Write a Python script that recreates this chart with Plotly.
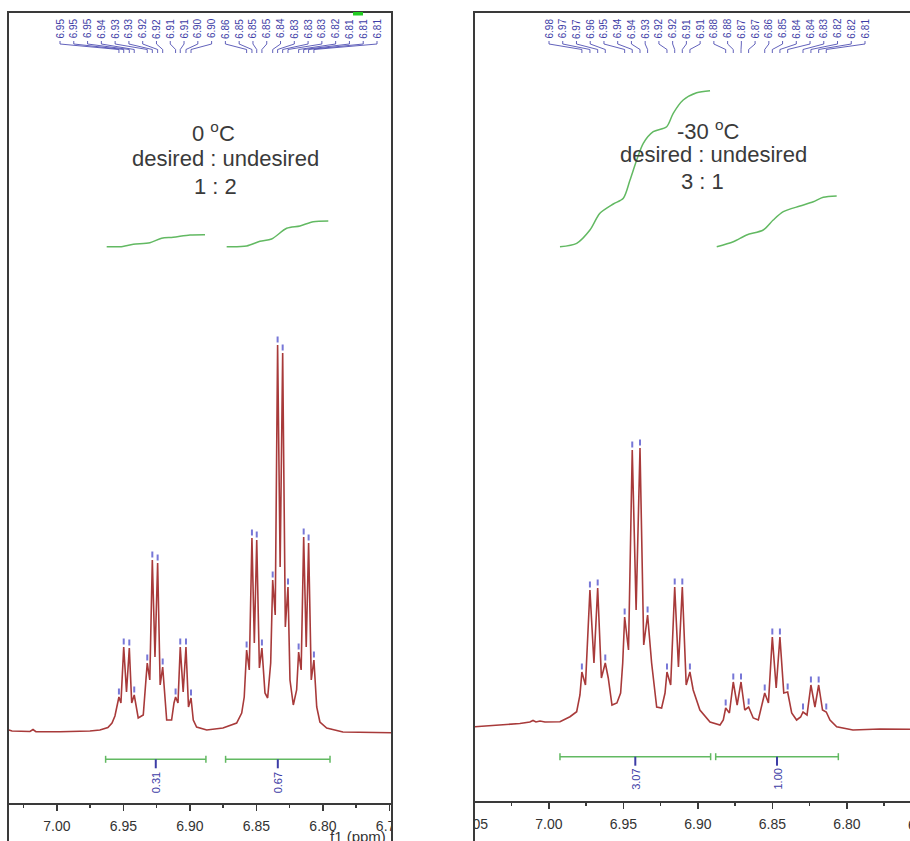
import plotly.graph_objects as go

W, H = 910, 841
FONT = "Liberation Sans, Arial, sans-serif"

# ================= DATA =================
# ---- Left panel: 0 °C ----
spec0_ppm = [7.0361, 7.0338, 7.0203, 7.0180, 7.0158, 6.9977, 6.9752, 6.9677, 6.9617, 6.9586,
             6.9564, 6.9549, 6.9534, 6.9519, 6.9498, 6.9477, 6.9456, 6.9438, 6.9419, 6.9389,
             6.9351, 6.9331, 6.9321, 6.9302, 6.9283, 6.9263, 6.9243, 6.9224, 6.9205, 6.9175,
             6.9138, 6.9120, 6.9108, 6.9090, 6.9073, 6.9051, 6.9030, 6.9011, 6.8992, 6.8975,
             6.8950, 6.8874, 6.8752, 6.8649, 6.8611, 6.8592, 6.8574, 6.8554, 6.8534, 6.8516,
             6.8498, 6.8478, 6.8459, 6.8436, 6.8416, 6.8393, 6.8378, 6.8359, 6.8341, 6.8322,
             6.8303, 6.8283, 6.8263, 6.8248, 6.8223, 6.8198, 6.8183, 6.8164, 6.8145, 6.8126,
             6.8108, 6.8088, 6.8068, 6.8047, 6.8023, 6.7972, 6.7850, 6.7481]
spec0_int = [2, 1, 0.5, 2.5, 0.3, 0.2, 1, 2, 4.5, 9,
             16, 24, 35, 29, 85, 40, 84, 29, 37, 14,
             17, 52, 69, 52, 172, 75, 169, 47, 65, 12,
             12, 29, 35, 29, 85, 40, 85, 25, 34, 12,
             5, 2, 4, 9, 19, 35, 82, 62, 194, 89,
             192, 64, 84, 39, 34, 69, 152, 117, 387, 165,
             379, 105, 145, 52, 27, 42, 80, 62, 195, 85,
             189, 52, 72, 25, 10, 4, 0, -0.7]
peaks0_ppm = [6.9534, 6.9498, 6.9456, 6.9419, 6.9321, 6.9283, 6.9243, 6.9205, 6.9108, 6.9073,
              6.9030, 6.8992, 6.8574, 6.8534, 6.8498, 6.8459, 6.8378, 6.8341, 6.8303, 6.8263,
              6.8183, 6.8145, 6.8108, 6.8068]
peaks0_int = [35, 85, 84, 37, 69, 172, 169, 65, 35, 85, 85, 34,
              82, 194, 192, 84, 152, 387, 379, 145, 80, 195, 189, 72]
peaks0_labels = ["6.95", "6.95", "6.95", "6.94", "6.93", "6.93", "6.92", "6.92", "6.91", "6.91",
                 "6.90", "6.90", "6.86", "6.85", "6.85", "6.85", "6.84", "6.83", "6.83", "6.83",
                 "6.82", "6.81", "6.81", "6.81"]
integ0a_ppm = [6.9626, 6.9526, 6.9426, 6.9301, 6.9213, 6.9126, 6.9000, 6.8887]
integ0a_val = [0, 0, 2.4, 4.0, 8.4, 9.4, 11.7, 12.0]
integ0b_ppm = [6.8724, 6.8574, 6.8474, 6.8386, 6.8273, 6.8173, 6.8073, 6.7960]
integ0b_val = [0, 0.7, 5.4, 7.7, 18.4, 20.7, 25.0, 25.7]
ranges0 = [(6.9634, 6.8880), (6.8732, 6.7947)]
integrals0 = ["0.31", "0.67"]

# ---- Right panel: -30 °C ----
spec30_ppm = [7.0497, 7.0309, 7.0195, 7.0128, 7.0107, 7.0087, 7.0060, 7.0027, 6.9926, 6.9859,
              6.9814, 6.9792, 6.9779, 6.9755, 6.9725, 6.9698, 6.9673, 6.9648, 6.9622, 6.9602,
              6.9577, 6.9544, 6.9519, 6.9505, 6.9492, 6.9466, 6.9441, 6.9415, 6.9389, 6.9364,
              6.9338, 6.9311, 6.9277, 6.9244, 6.9221, 6.9208, 6.9183, 6.9156, 6.9131, 6.9105,
              6.9079, 6.9054, 6.9032, 6.8987, 6.8919, 6.8852, 6.8830, 6.8814, 6.8789, 6.8763,
              6.8737, 6.8711, 6.8686, 6.8660, 6.8629, 6.8595, 6.8572, 6.8552, 6.8527, 6.8501,
              6.8475, 6.8450, 6.8424, 6.8398, 6.8371, 6.8338, 6.8311, 6.8295, 6.8268, 6.8242,
              6.8215, 6.8190, 6.8164, 6.8139, 6.8114, 6.8069, 6.7960, 6.7779, 6.7577]
spec30_int = [0.3, 2, 3.5, 5, 6.5, 5, 6, 5, 5.3, 10.3,
              15.3, 32, 55, 42, 137, 64, 139, 49, 64, 49,
              22, 24, 34, 64, 110, 77, 277, 117, 279, 82,
              112, 64, 20, 19, 34, 55, 42, 140, 60, 140,
              42, 55, 37, 17, 5, 2, 7, 19, 14, 45,
              22, 45, 17, 20, 9, 7, 20, 34, 24, 90,
              39, 90, 34, 35, 14, 7, 10, 15, 12, 42,
              20, 42, 17, 15, 7, 0.3, -3, -2, -2.3]
peaks30_ppm = [6.9779, 6.9725, 6.9673, 6.9622, 6.9492, 6.9441, 6.9389, 6.9338, 6.9208, 6.9156,
               6.9105, 6.9054, 6.8814, 6.8763, 6.8711, 6.8660, 6.8552, 6.8501, 6.8450, 6.8398,
               6.8295, 6.8242, 6.8190, 6.8139]
peaks30_int = [55, 137, 139, 64, 110, 277, 279, 112, 55, 140, 140, 55,
               19, 45, 45, 20, 34, 90, 90, 35, 15, 42, 42, 15]
peaks30_labels = ["6.98", "6.97", "6.97", "6.96", "6.95", "6.94", "6.94", "6.93", "6.92", "6.92",
                  "6.91", "6.91", "6.88", "6.88", "6.87", "6.87", "6.86", "6.85", "6.84", "6.84",
                  "6.83", "6.82", "6.82", "6.81"]
integ30a_ppm = [6.9926, 6.9814, 6.9725, 6.9658, 6.9568, 6.9501, 6.9456, 6.9411, 6.9367, 6.9300,
                6.9210, 6.9166, 6.9099, 6.9009, 6.8919]
integ30a_val = [0, 3.4, 16.7, 33.4, 42.7, 48.4, 66.7, 86.7, 103.4, 115, 120, 133.4, 146.7, 154, 156]
integ30b_ppm = [6.8874, 6.8763, 6.8673, 6.8562, 6.8495, 6.8427, 6.8315, 6.8226, 6.8159, 6.8069]
integ30b_val = [0, 5, 11.7, 16.7, 26.7, 35, 40.7, 45, 49.4, 50.7]
ranges30 = [(6.9926, 6.8915), (6.8881, 6.8058)]
integrals30 = ["3.07", "1.00"]

# ================= STYLE / LAYOUT HELPERS =================
SPEC_COLOR = "#a83a3a"
INT_COLOR = "#62b962"
LABEL_COLOR = "#3d3da6"
FRAME_COLOR = "#3a3a3a"


def py(p):
    return 1 - p / H


def pxp(p):
    return p / W


panels = [
    dict(xa="x", ya="y", dom=(8, 392), rng=(7.0368, 6.7481), yr=(-109, 732), axis_y=803,
         spec=(spec0_ppm, spec0_int), peaks=(peaks0_ppm, peaks0_int, peaks0_labels),
         integ=[(integ0a_ppm, integ0a_val), (integ0b_ppm, integ0b_val)], integ_base=485.3,
         ranges=ranges0, ivals=integrals0, bar_y=759.3, ilab_y=782.5, lab_span=(60, 377),
         text=[("0 <sup>o</sup>C", 213, 131.5), ("desired : undesired", 225, 158), ("1 : 2", 215, 186.5)]),
    dict(xa="x2", ya="y2", dom=(474, 910), rng=(7.0503, 6.7577), yr=(-114, 727), axis_y=801,
         spec=(spec30_ppm, spec30_int), peaks=(peaks30_ppm, peaks30_int, peaks30_labels),
         integ=[(integ30a_ppm, integ30a_val), (integ30b_ppm, integ30b_val)], integ_base=480.3,
         ranges=ranges30, ivals=integrals30, bar_y=756.7, ilab_y=779.5, lab_span=(549, 865),
         text=[("-30 <sup>o</sup>C", 707.5, 130), ("desired : undesired", 713, 155), ("3 : 1", 702.5, 181.5)]),
]

fig = go.Figure()
shapes = []
annotations = []
layout_axes = {}

for i, P in enumerate(panels):
    xa, ya = P["xa"], P["ya"]
    d0, d1 = P["dom"]
    r0, r1 = P["rng"]

    def px_to_ppm(p, d0=d0, d1=d1, r0=r0, r1=r1):
        return r0 + (p - d0) / (d1 - d0) * (r1 - r0)

    fig.add_trace(go.Scatter(x=P["spec"][0], y=P["spec"][1], mode="lines",
                             line=dict(color=SPEC_COLOR, width=1.6),
                             xaxis=xa, yaxis=ya, hoverinfo="skip", showlegend=False))
    for ppm, val in P["integ"]:
        fig.add_trace(go.Scatter(x=ppm, y=[v + P["integ_base"] for v in val], mode="lines",
                                 line=dict(color=INT_COLOR, width=1.5, shape="spline", smoothing=0.8),
                                 xaxis=xa, yaxis=ya, hoverinfo="skip", showlegend=False))

    pk_ppm, pk_int, pk_lab = P["peaks"]
    n = len(pk_ppm)
    l0, l1 = P["lab_span"]
    for k in range(n):
        lpx = l0 + (l1 - l0) * k / (n - 1)
        lppm = px_to_ppm(lpx)
        shapes.append(dict(type="line", xref=xa, yref=ya, x0=pk_ppm[k], x1=pk_ppm[k],
                           y0=pk_int[k] + 2.5, y1=pk_int[k] + 8.5,
                           line=dict(color="rgba(85,85,205,0.8)", width=2)))
        shapes.append(dict(type="path", xref=xa, yref="paper",
                           path=f"M {lppm},{py(41)} L {lppm},{py(44)} L {pk_ppm[k]},{py(49.5)} L {pk_ppm[k]},{py(53)}",
                           line=dict(color="rgba(70,70,175,0.85)", width=1)))
        annotations.append(dict(x=lppm, y=py(28.5), xref=xa, yref="paper", text=pk_lab[k],
                                textangle=-90, showarrow=False, xanchor="center", yanchor="middle",
                                font=dict(family=FONT, size=10, color=LABEL_COLOR)))

    by = P["bar_y"]
    for (a, b), lab in zip(P["ranges"], P["ivals"]):
        shapes.append(dict(type="line", xref=xa, yref="paper", x0=a, x1=b, y0=py(by), y1=py(by),
                           line=dict(color=INT_COLOR, width=1.5)))
        for e in (a, b):
            shapes.append(dict(type="line", xref=xa, yref="paper", x0=e, x1=e,
                               y0=py(by - 3.5), y1=py(by + 3.5), line=dict(color=INT_COLOR, width=1.5)))
        c = (a + b) / 2
        shapes.append(dict(type="line", xref=xa, yref="paper", x0=c, x1=c, y0=py(by), y1=py(by + 9),
                           line=dict(color=LABEL_COLOR, width=2)))
        annotations.append(dict(x=c, y=py(P["ilab_y"]), xref=xa, yref="paper", text=lab,
                                textangle=-90, showarrow=False, xanchor="center", yanchor="middle",
                                font=dict(family=FONT, size=11, color=LABEL_COLOR)))

    for t, tx, ty in P["text"]:
        annotations.append(dict(x=pxp(tx), y=py(ty), xref="paper", yref="paper", text=t,
                                showarrow=False, xanchor="center", yanchor="middle",
                                font=dict(family=FONT, size=22, color="#3a3a3a")))

    suffix = "" if i == 0 else "2"
    layout_axes["xaxis" + suffix] = dict(
        domain=[pxp(d0), min(pxp(d1), 1.0)], range=[r0, r1], anchor="free",
        position=1 - P["axis_y"] / H, showline=True, linecolor=FRAME_COLOR, linewidth=1.5,
        ticks="outside", ticklen=6, tickwidth=1.5, tickcolor=FRAME_COLOR,
        tick0=7.0, dtick=0.05, tickformat=".2f", ticklabelstandoff=4, automargin=False,
        tickfont=dict(family=FONT, size=14, color="#333333"),
        minor=dict(tick0=7.0, dtick=0.025, ticks="outside", ticklen=3, tickwidth=1.5,
                   tickcolor=FRAME_COLOR, showgrid=False),
        showgrid=False, zeroline=False, fixedrange=True)
    layout_axes["yaxis" + suffix] = dict(domain=[0, 1], range=list(P["yr"]), visible=False,
                                         anchor=xa, fixedrange=True, automargin=False)

shapes.append(dict(type="rect", xref="paper", yref="paper", x0=pxp(393), x1=pxp(473), y0=0, y1=py(780),
                   fillcolor="white", line=dict(width=0), layer="above"))
for xb in (8, 392, 474):
    shapes.append(dict(type="line", xref="paper", yref="paper", x0=pxp(xb), x1=pxp(xb), y0=0, y1=py(11.5),
                       line=dict(color=FRAME_COLOR, width=2)))
shapes.append(dict(type="line", xref="paper", yref="paper", x0=pxp(7), x1=pxp(393), y0=py(12), y1=py(12),
                   line=dict(color=FRAME_COLOR, width=2)))
shapes.append(dict(type="line", xref="paper", yref="paper", x0=pxp(473), x1=1, y0=py(12), y1=py(12),
                   line=dict(color=FRAME_COLOR, width=2)))
shapes.append(dict(type="rect", xref="paper", yref="paper", x0=pxp(353), x1=pxp(363), y0=py(15.5), y1=py(12),
                   fillcolor="#22cc22", line=dict(width=0)))

annotations.append(dict(x=pxp(388), y=py(826), xref="paper", yref="paper", text="f1 (ppm)",
                        showarrow=False, xanchor="right", yanchor="top",
                        font=dict(family=FONT, size=15, color="#333333")))
# tick label of 6.75 on the right panel, which lies just past the window edge
annotations.append(dict(x=pxp(921.5), y=py(825), xref="paper", yref="paper", text="6.75",
                        showarrow=False, xanchor="center", yanchor="middle",
                        font=dict(family=FONT, size=14, color="#333333")))

fig.update_layout(width=W, height=H, margin=dict(l=0, r=0, t=0, b=0, pad=0), autosize=False,
                  paper_bgcolor="white", plot_bgcolor="rgba(0,0,0,0)",
                  showlegend=False, hovermode=False, shapes=shapes, annotations=annotations,
                  **layout_axes)

fig.write_html("out.html", config={"displayModeBar": False, "staticPlot": True, "responsive": False},
               post_script="document.body.style.margin='0';document.body.style.overflow='hidden';")
